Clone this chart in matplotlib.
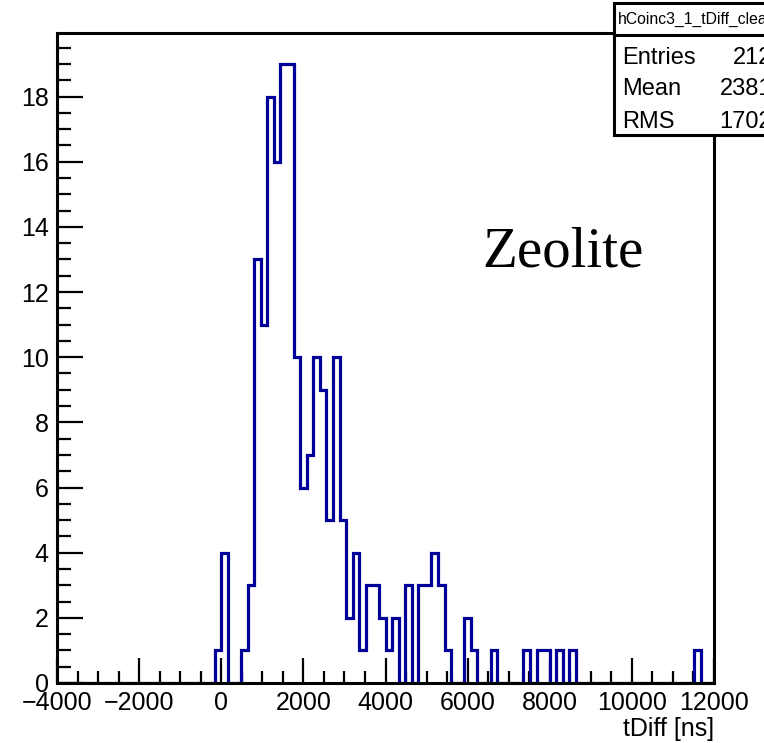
import matplotlib.pyplot as plt
from matplotlib.patches import Rectangle
import numpy as np

# histogram settings (ROOT style TH1: 100 bins from -4000 to 12000 ns)
x_min, x_max = -4000, 12000
n_bins = 100

# bin contents
counts = [0] * 24 + [
    1, 4, 0, 0, 1, 3, 13, 11, 18, 16,      # bins 24-33
    19, 19, 10, 6, 7, 10, 9, 5, 10, 5,     # bins 34-43
    2, 4, 1, 3, 3, 2, 1, 2, 0, 3,          # bins 44-53
    0, 3, 3, 4, 3, 1, 0, 0, 2, 1,          # bins 54-63
    0, 0, 1, 0, 0, 0, 0, 1, 0, 1,          # bins 64-73
    1, 0, 1, 0, 1,                         # bins 74-78
] + [0] * 18 + [1, 0, 0]

x_ticks = [-4000, -2000, 0, 2000, 4000, 6000, 8000, 10000, 12000]
y_ticks = [0, 2, 4, 6, 8, 10, 12, 14, 16, 18]

hist_name = "hCoinc3_1_tDiff_clean"
stat_labels = ["Entries", "Mean", "RMS"]
stat_values = ["212", "2381", "1702"]

plt.rcParams['font.family'] = ['Liberation Sans', 'DejaVu Sans']

W, H = 764, 743
fig = plt.figure(figsize=(W / 100, H / 100), dpi=100)

def fx(px):
    return px / W

def fy(py):
    return 1 - py / H

ax = fig.add_axes([fx(57), fy(683), fx(714) - fx(57), fy(33) - fy(683)])

edges = np.linspace(x_min, x_max, n_bins + 1)
ax.stairs(counts, edges, color='#000099', linewidth=2.3, baseline=0, zorder=2)

ax.set_xlim(x_min, x_max)
ax.set_ylim(0, 1.05 * max(counts))

ax.set_xticks(x_ticks)
ax.set_xticklabels([f"{t:d}".replace('-', '\u2212') for t in x_ticks])
ax.set_xticks(np.arange(x_min, x_max + 1, 500), minor=True)
ax.set_yticks(y_ticks)
ax.set_yticks(np.arange(0, 20, 0.5), minor=True)

ax.tick_params(which='both', direction='in', top=False, right=False,
               width=1.6, labelsize=18)
ax.tick_params(axis='x', which='major', length=18, pad=6)
ax.tick_params(axis='x', which='minor', length=9)
ax.tick_params(axis='y', which='major', length=19, pad=6)
ax.tick_params(axis='y', which='minor', length=10)

for s in ax.spines.values():
    s.set_linewidth(2.2)
    s.set_zorder(3)

ax.set_xlabel("tDiff [ns]", loc='right', fontsize=18, labelpad=1)

ax.text(0.648, 0.6415, "Zeolite", transform=ax.transAxes,
        fontsize=41, family='Liberation Serif', va='baseline', ha='left')

# stats box, partly outside the canvas like the original
box = Rectangle((fx(614), fy(135)), fx(200), fy(3) - fy(135),
                transform=fig.transFigure, facecolor='white',
                edgecolor='black', linewidth=2.2, zorder=10)
fig.patches.append(box)
fig.add_artist(plt.Line2D([fx(614), fx(820)], [fy(35), fy(35)],
                          transform=fig.transFigure, color='black',
                          linewidth=2.2, zorder=11))
fig.text(fx(618), fy(19), hist_name, fontsize=11.3, va='center', ha='left', zorder=12)

row_y = [58, 89, 122]
for lab, val, py in zip(stat_labels, stat_values, row_y):
    fig.text(fx(622), fy(py), lab, fontsize=17, va='center', ha='left', zorder=12)
    fig.text(fx(772), fy(py), val, fontsize=17, va='center', ha='right', zorder=12)

fig.savefig("out.png", dpi=100)
